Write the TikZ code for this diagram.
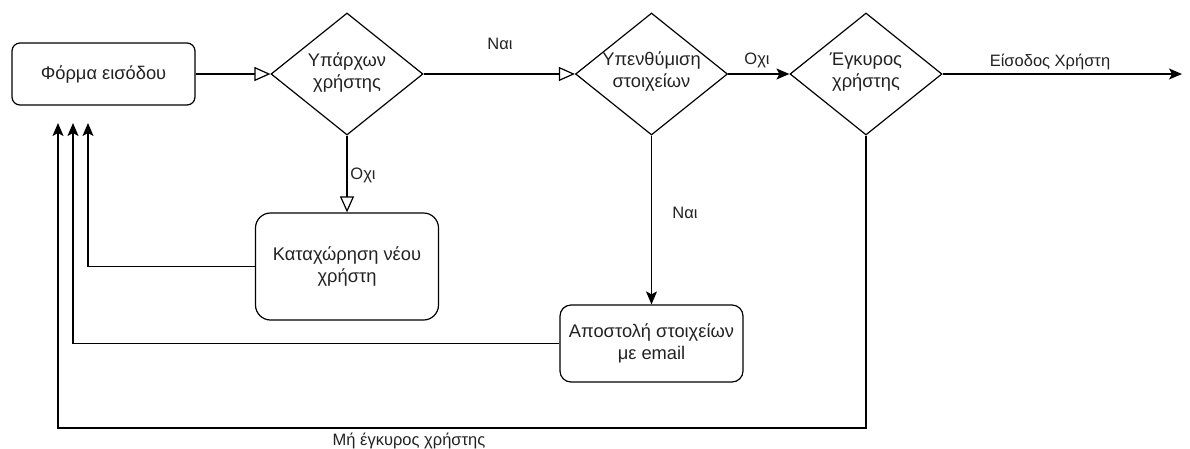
\documentclass[tikz,border=0pt]{standalone}
\usepackage{fontspec}
\setmainfont{Liberation Sans}
\usetikzlibrary{shapes.geometric,arrows.meta}
\definecolor{txt}{HTML}{222222}
\begin{document}
\begin{tikzpicture}[x=1pt,y=-1pt,
  line width=1.2pt,
  nodefont/.style={font=\fontsize{18.3}{22}\selectfont, text=txt},
  proc/.style={draw, rounded corners=#1, align=center, nodefont, inner sep=0pt},
  decision/.style={draw, diamond, minimum width=152pt, minimum height=122pt, inner sep=0pt},
  dtext/.style={align=center, nodefont, inner sep=0pt},
  elabel/.style={font=\fontsize{16.5}{20}\selectfont, text=txt, inner sep=0pt},
  openarrow/.style={-{Triangle[open,length=16pt,width=14pt]}},
  solidarrow/.style={-{Stealth[length=13pt,width=11pt,inset=3pt]}},
]
\useasboundingbox (0,0) rectangle (1190,448);

% process boxes
\node[proc=8pt, minimum width=183pt, minimum height=62pt] (form) at (103.5,74) {Φόρμα εισόδου};
\node[proc=15pt, minimum width=183pt, minimum height=107pt] (reg) at (347,266.5) {Καταχώρηση νέου\\χρήστη};
\node[proc=11pt, minimum width=183pt, minimum height=77pt] (mail) at (651.5,343.5) {Αποστολή στοιχείων\\με email};

% decisions
\node[decision] (exists) at (347,74) {};
\node[dtext] (existsT) at (347,72.5) {Υπάρχων\\χρήστης};
\node[decision] (remind) at (651.5,74) {};
\node[dtext] (remindT) at (651.5,71.5) {Υπενθύμιση\\στοιχείων};
\node[decision] (valid) at (866,74) {};
\node[dtext] (validT) at (866,72.5) {Έγκυρος\\χρήστης};

% free ends
\coordinate (exit) at (1182,74);
\coordinate (in1) at (58,123);
\coordinate (in2) at (73,123);
\coordinate (in3) at (88,123);
\coordinate (corner) at (866,428);

% connectors
\draw[openarrow] (form.east) -- (exists.west);
\draw[openarrow] (exists.east) -- (remind.west);
\draw[openarrow] (exists.south) -- (exists.south |- reg.north);
\draw[solidarrow] (remind.east) -- (valid.west);
\draw[solidarrow] (remind.south) -- (remind.south |- mail.north);
\draw[solidarrow] (valid.east) -- (exit);
\draw[solidarrow] (reg.west) -| (in3);
\draw[solidarrow] (mail.west) -| (in2);
\draw[solidarrow] (valid.south) -- (corner) -| (in1);

% connector labels
\node[elabel] (yes1) at (500,44) {Ναι};
\node[elabel] (no1) at (363,175) {Οχι};
\node[elabel] (no2) at (757,60) {Οχι};
\node[elabel] (yes2) at (685,213) {Ναι};
\node[elabel] (login) at (1050,62) {Είσοδος Χρήστη};
\node[elabel] (invalid) at (409,441) {Μή έγκυρος χρήστης};
\end{tikzpicture}
\end{document}
